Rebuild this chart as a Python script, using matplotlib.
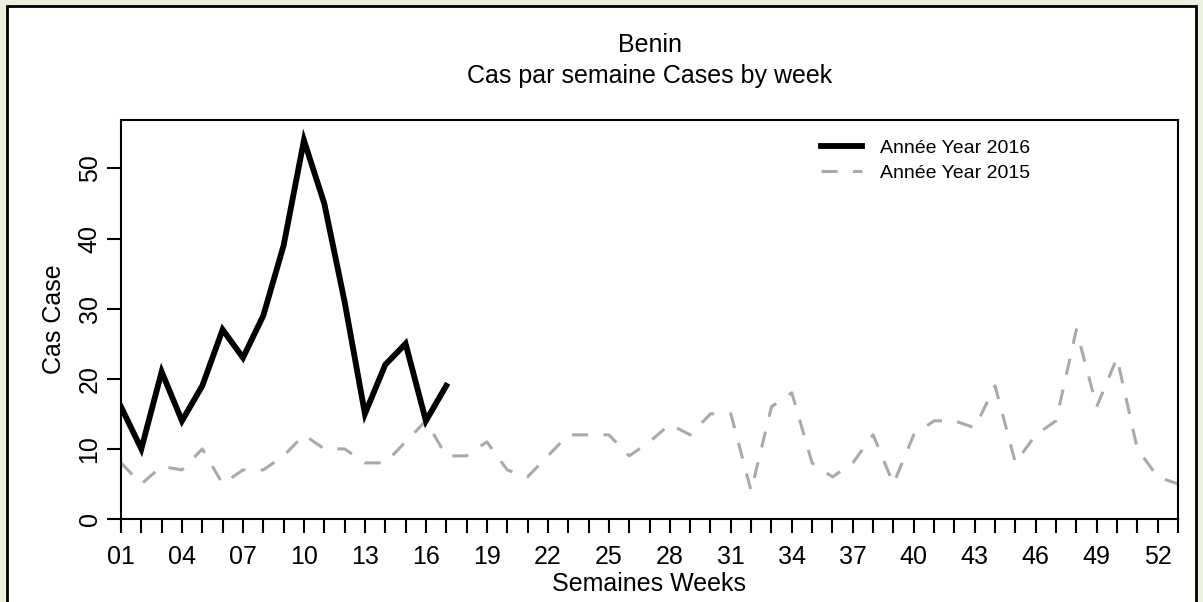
import matplotlib
matplotlib.use("Agg")
import matplotlib.pyplot as plt
from matplotlib.patches import Rectangle

plt.rcParams['font.family'] = ['Liberation Sans', 'DejaVu Sans']

# cases per week
cases_2016 = [16, 10, 21, 14, 19, 27, 23, 29, 39, 54, 45, 31, 15, 22, 25, 14, 19]
cases_2015 = [8, 5, 7.5, 7, 10, 5, 7, 7, 9, 12, 10, 10, 8, 8, 11, 14, 9, 9, 11, 7,
              6, 9, 12, 12, 12, 9, 11, 13.5, 12, 15, 15, 4, 16, 18, 8, 6, 8, 12, 5, 12,
              14, 14, 13, 19, 8, 12, 14, 27, 16, 23, 10, 6, 5]
weeks_2016 = list(range(1, len(cases_2016) + 1))
weeks_2015 = list(range(1, len(cases_2015) + 1))
label_weeks = list(range(1, 53, 3))
y_ticks = [0, 10, 20, 30, 40, 50]

W, H = 1203, 602
fig = plt.figure(figsize=(W / 100, H / 100), dpi=100, facecolor='#EBF1DE')

# white panel with black frame, behind everything
fig.patches.append(Rectangle((7 / W, -0.02), (1196 - 7) / W, (H - 6) / H + 0.02,
                             transform=fig.transFigure, facecolor='white',
                             edgecolor='black', linewidth=2, zorder=-10))

ax = fig.add_axes([121 / W, 1 - 519 / H, (1178 - 121) / W, (519 - 120) / H])

ax.plot(weeks_2015, cases_2015, color='#AAAAAA', lw=2.2, dashes=(5.3, 5),
        label='Année Year 2015', zorder=2)
ax.plot(weeks_2016, cases_2016, color='black', lw=4.2, label='Année Year 2016',
        solid_joinstyle='miter', zorder=3)

ax.set_xlim(1, 53)
ax.set_ylim(0, 56.9)

ax.set_xticks(range(1, 54))
ax.set_xticklabels([f"{w:02d}" if w in label_weeks else "" for w in range(1, 54)])
ax.set_yticks(y_ticks)
ax.set_yticklabels([str(v) for v in y_ticks], rotation=90, va='center')

ax.tick_params(axis='both', direction='out', length=10, width=1.5,
               labelsize=18, colors='black')
ax.tick_params(axis='x', pad=9)
ax.tick_params(axis='y', pad=4)
for s in ax.spines.values():
    s.set_linewidth(1.5)

ax.set_xlabel('Semaines Weeks', fontsize=18, labelpad=2)
ax.set_ylabel('Cas Case', fontsize=18, labelpad=8)
ax.set_title('Benin\nCas par semaine Cases by week', fontsize=18, pad=27,
             linespacing=1.35)

handles, labels = ax.get_legend_handles_labels()
leg = ax.legend(handles[::-1], labels[::-1], loc='upper right',
                bbox_to_anchor=(0.877, 0.995), frameon=False, fontsize=14,
                handlelength=2.1, handletextpad=0.95, labelspacing=0.38)

fig.savefig('out.png', dpi=100, facecolor=fig.get_facecolor())
